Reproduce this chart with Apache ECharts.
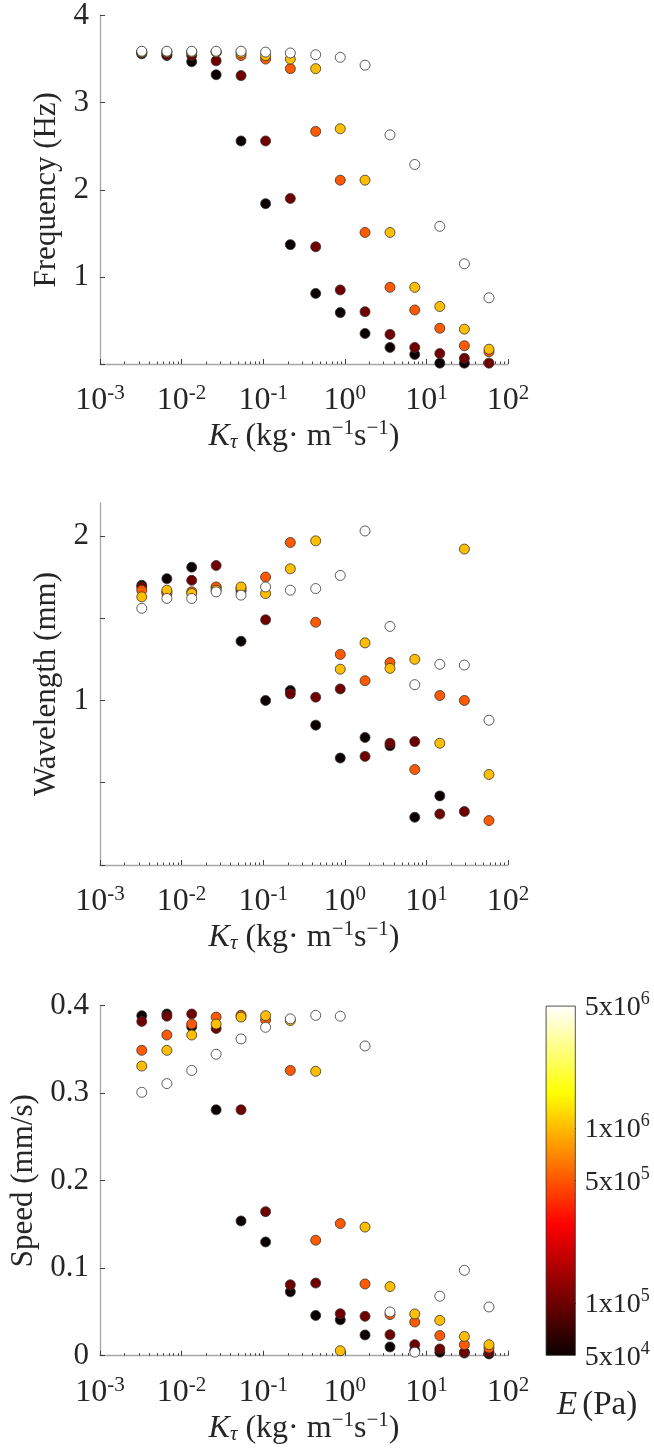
<!DOCTYPE html>
<html>
<head>
<meta charset="utf-8">
<script src="https://cdn.jsdelivr.net/npm/echarts@6.0.0/dist/echarts.min.js"></script>
<style>
html,body{margin:0;padding:0;background:#fff;}
#chart{width:654px;height:1449px;}
</style>
</head>
<body>
<div id="chart"></div>
<script>
// ---------------- DATA ----------------
const K = [0.00325, 0.0066, 0.0133, 0.0265, 0.0535, 0.107, 0.215, 0.44, 0.88, 1.77, 3.58, 7.2, 14.6, 29.2, 58.5];
const E_LABELS = ['5x10^4', '1x10^5', '5x10^5', '1x10^6', '5x10^6'];
const E_VALUES = [5e4, 1e5, 5e5, 1e6, 5e6];

const freqE5e4 = [3.56, 3.54, 3.47, 3.32, 2.56, 1.84, 1.37, 0.81, 0.59, 0.35, 0.19, 0.11, 0.01, 0.01, null];
const freqE1e5 = [3.57, 3.55, 3.54, 3.48, 3.31, 2.56, 1.90, 1.345, 0.85, 0.60, 0.34, 0.19, 0.12, 0.065, 0.01];
const freqE5e5 = [3.58, 3.58, 3.58, 3.58, 3.54, 3.50, 3.39, 2.67, 2.11, 1.51, 0.88, 0.62, 0.41, 0.21, 0.14];
const freqE1e6 = [3.58, 3.58, 3.58, 3.58, 3.57, 3.54, 3.50, 3.39, 2.70, 2.11, 1.51, 0.88, 0.66, 0.40, 0.17];
const freqE5e6 = [3.59, 3.59, 3.59, 3.59, 3.59, 3.58, 3.57, 3.55, 3.52, 3.43, 2.63, 2.29, 1.58, 1.15, 0.76];

const waveE5e4 = [1.70, 1.74, 1.81, 1.685, 1.36, 1.00, 1.06, 0.85, 0.65, 0.775, 0.725, 0.29, 0.42, null, null];
const waveE1e5 = [1.69, 1.66, 1.73, 1.82, 1.665, 1.49, 1.04, 1.02, 1.07, 0.66, 0.74, 0.75, 0.31, 0.325, null];
const waveE5e5 = [1.67, 1.65, 1.66, 1.69, 1.68, 1.75, 1.96, 1.475, 1.28, 1.12, 1.23, 0.58, 1.03, 1.00, 0.27];
const waveE1e6 = [1.63, 1.67, 1.65, 1.67, 1.69, 1.65, 1.80, 1.97, 1.19, 1.35, 1.195, 1.25, 0.74, 1.92, 0.55];
const waveE5e6 = [1.56, 1.62, 1.62, 1.66, 1.64, 1.69, 1.67, 1.68, 1.76, 2.03, 1.45, 1.096, 1.22, 1.215, 0.88];

const speedE5e4 = [0.3886, 0.3905, 0.376, 0.281, 0.154, 0.130, 0.073, 0.046, 0.041, 0.0237, 0.010, 0.006, 0.004, 0.003, 0.002];
const speedE1e5 = [0.382, 0.388, 0.3905, 0.374, 0.281, 0.1646, 0.081, 0.083, 0.048, 0.045, 0.024, 0.0126, 0.0077, 0.004, 0.004];
const speedE5e5 = [0.349, 0.3665, 0.379, 0.387, 0.389, 0.3837, 0.326, 0.132, 0.151, 0.082, 0.047, 0.0385, 0.023, 0.0126, 0.0088];
const speedE1e6 = [0.331, 0.349, 0.3665, 0.379, 0.387, 0.3886, 0.383, 0.325, 0.0057, 0.147, 0.079, 0.0477, 0.0404, 0.022, 0.0126];
const speedE5e6 = [0.301, 0.311, 0.326, 0.3445, 0.362, 0.3753, 0.385, 0.389, 0.388, 0.354, 0.050, 0.004, 0.068, 0.0976, 0.0557];

const FREQ_TICKS = [0, 1, 2, 3, 4];
const FREQ_LABELS = [1, 2, 3, 4];
const WAVE_TICKS = [0, 0.5, 1, 1.5, 2];
const WAVE_LABELS = [1, 2];
const SPEED_TICKS = [0, 0.1, 0.2, 0.3, 0.4];
const SPEED_LABELS = [0, 0.1, 0.2, 0.3, 0.4];
const CB_TICKS = [1e5, 5e5, 1e6];
const CB_LABELS = [5e4, 1e5, 5e5, 1e6, 5e6];

// ---------------- STYLE ----------------
const FONT = 'Liberation Serif';
const TXT = '#262626';
const AXIS_GREY = '#a6a6a6';
const COLORS = ['#0b0000', '#700000', '#ff5a00', '#ffbf00', '#ffffff'];
const CB_MIN = E_VALUES[0];

const minorTicks = [];
for (let e = -3; e < 2; e++) for (let m = 2; m <= 9; m++) minorTicks.push(m * Math.pow(10, e));

const GRIDS = [
  {left: 100, top: 13.3, width: 408, height: 350.7},
  {left: 100, top: 503, width: 408, height: 362},
  {left: 100, top: 1005.7, width: 408, height: 350},
  {left: 545.7, top: 1005.7, width: 30, height: 350}
];

const xTitle = '{i|K}{sub|τ}{r| (kg· m}{sup|−1}{r|s}{sup|−1}{r|)}';
const xTitleRich = {
  i: {fontFamily: FONT, fontSize: 32, fontStyle: 'italic', color: TXT, lineHeight: 35, verticalAlign: 'bottom'},
  sub: {fontFamily: FONT, fontSize: 21, fontStyle: 'italic', color: TXT, lineHeight: 25, verticalAlign: 'bottom'},
  r: {fontFamily: FONT, fontSize: 32, color: TXT, lineHeight: 35, verticalAlign: 'bottom'},
  sup: {fontFamily: FONT, fontSize: 21, color: TXT, lineHeight: 16, verticalAlign: 'top'}
};

function mainX(i) {
  return {
    type: 'log', gridIndex: i, min: 0.001, max: 100, logBase: 10,
    axisLine: {show: true, onZero: false, lineStyle: {color: AXIS_GREY, width: 1.3}},
    axisTick: {show: true, inside: true, length: 5, lineStyle: {color: '#404040', width: 1}},
    minorTick: {show: false},
    splitLine: {show: false}, minorSplitLine: {show: false},
    axisLabel: {
      margin: 19,
      formatter: v => '{b|10}{s|' + Math.round(Math.log10(v)) + '}',
      rich: {
        b: {fontFamily: FONT, fontSize: 32, color: TXT, lineHeight: 34, verticalAlign: 'bottom'},
        s: {fontFamily: FONT, fontSize: 21, color: TXT, lineHeight: 16, verticalAlign: 'top'}
      }
    },
    name: xTitle, nameLocation: 'middle', nameGap: 53,
    nameTextStyle: {rich: xTitleRich}
  };
}
function minorX(i) {
  return {
    type: 'log', gridIndex: i, min: 0.001, max: 100, logBase: 10, position: 'bottom',
    axisLine: {show: false}, axisLabel: {show: false}, splitLine: {show: false},
    axisTick: {show: true, inside: true, length: 2.5, customValues: minorTicks, lineStyle: {color: '#404040', width: 1}}
  };
}
function mainY(i, min, max, ticks, labels, name, gap, fmt) {
  return {
    type: 'value', gridIndex: i, min: min, max: max,
    axisLine: {show: true, lineStyle: {color: AXIS_GREY, width: 1.3}},
    axisTick: {show: true, inside: true, length: 5, customValues: ticks, lineStyle: {color: '#404040', width: 1}},
    splitLine: {show: false},
    axisLabel: {customValues: labels, margin: 11, fontFamily: FONT, fontSize: 31, color: TXT, formatter: fmt},
    name: name, nameLocation: 'middle', nameRotate: 90, nameGap: gap,
    nameTextStyle: {fontFamily: FONT, fontSize: 31, color: TXT}
  };
}

const plots = [
  [freqE5e4, freqE1e5, freqE5e5, freqE1e6, freqE5e6],
  [waveE5e4, waveE1e5, waveE5e5, waveE1e6, waveE5e6],
  [speedE5e4, speedE1e5, speedE5e5, speedE1e6, speedE5e6]
];

const series = [];
plots.forEach((sets, p) => {
  sets.forEach((vals, e) => {
    const data = [];
    K.forEach((k, j) => { if (vals[j] != null) data.push([k, vals[j]]); });
    series.push({
      type: 'scatter', name: E_LABELS[e], xAxisIndex: p, yAxisIndex: p, data: data,
      symbol: 'circle', symbolSize: 10, silent: true,
      itemStyle: {color: COLORS[e], borderColor: '#333333', borderWidth: 0.8, opacity: 1},
      emphasis: {disabled: true}, z: 3
    });
  });
});

// colorbar
series.push({
  type: 'bar', xAxisIndex: 6, yAxisIndex: 3, data: [Math.log10(E_VALUES[4] / CB_MIN)],
  barWidth: '100%', silent: true,
  itemStyle: {
    color: {type: 'linear', x: 0, y: 0, x2: 0, y2: 1, colorStops: [
      {offset: 0, color: '#ffffff'}, {offset: 0.25, color: '#ffff00'},
      {offset: 0.625, color: '#ff0000'}, {offset: 1, color: '#0b0000'}]},
    borderColor: '#262626', borderWidth: 0.8
  }
});

const cbFormatter = v => {
  const E = CB_MIN * Math.pow(10, v);
  const ex = Math.floor(Math.log10(E) + 1e-9);
  const m = Math.round(E / Math.pow(10, ex));
  return '{b|' + m + 'x10}{s|' + ex + '}';
};

const option = {
  animation: false,
  backgroundColor: '#ffffff',
  grid: GRIDS,
  title: {
    text: '{i|E} {r|(Pa)}', left: 552, top: 1384,
    textStyle: {fontWeight: 'normal', rich: {
      i: {fontFamily: FONT, fontSize: 33, fontStyle: 'italic', fontWeight: 'normal', color: TXT},
      r: {fontFamily: FONT, fontSize: 33, fontWeight: 'normal', color: TXT}
    }}
  },
  xAxis: [mainX(0), mainX(1), mainX(2), minorX(0), minorX(1), minorX(2),
    {type: 'category', gridIndex: 3, data: [''], show: false}],
  yAxis: [
    mainY(0, 0, 4, FREQ_TICKS, FREQ_LABELS, 'Frequency (Hz)', 33, v => String(v)),
    mainY(1, 0, 2.2, WAVE_TICKS, WAVE_LABELS, 'Wavelength (mm)', 33, v => String(v)),
    mainY(2, 0, 0.4, SPEED_TICKS, SPEED_LABELS, 'Speed (mm/s)', 57, v => v === 0 ? '0' : v.toFixed(1)),
    {
      type: 'value', gridIndex: 3, min: 0, max: Math.log10(E_VALUES[4] / CB_MIN), position: 'right',
      axisLine: {show: false}, splitLine: {show: false},
      axisTick: {show: true, inside: true, length: 4, customValues: CB_TICKS.map(e => Math.log10(e / CB_MIN)), lineStyle: {color: '#262626', width: 1}},
      axisLabel: {
        customValues: CB_LABELS.map(e => Math.log10(e / CB_MIN)), margin: 9, formatter: cbFormatter,
        rich: {
          b: {fontFamily: FONT, fontSize: 28, color: TXT, lineHeight: 31, verticalAlign: 'bottom'},
          s: {fontFamily: FONT, fontSize: 18, color: TXT, lineHeight: 14, verticalAlign: 'top'}
        }
      }
    }
  ],
  series: series
};

const chart = echarts.init(document.getElementById('chart'), null, {renderer: 'canvas'});
chart.setOption(option);
</script>
</body>
</html>
